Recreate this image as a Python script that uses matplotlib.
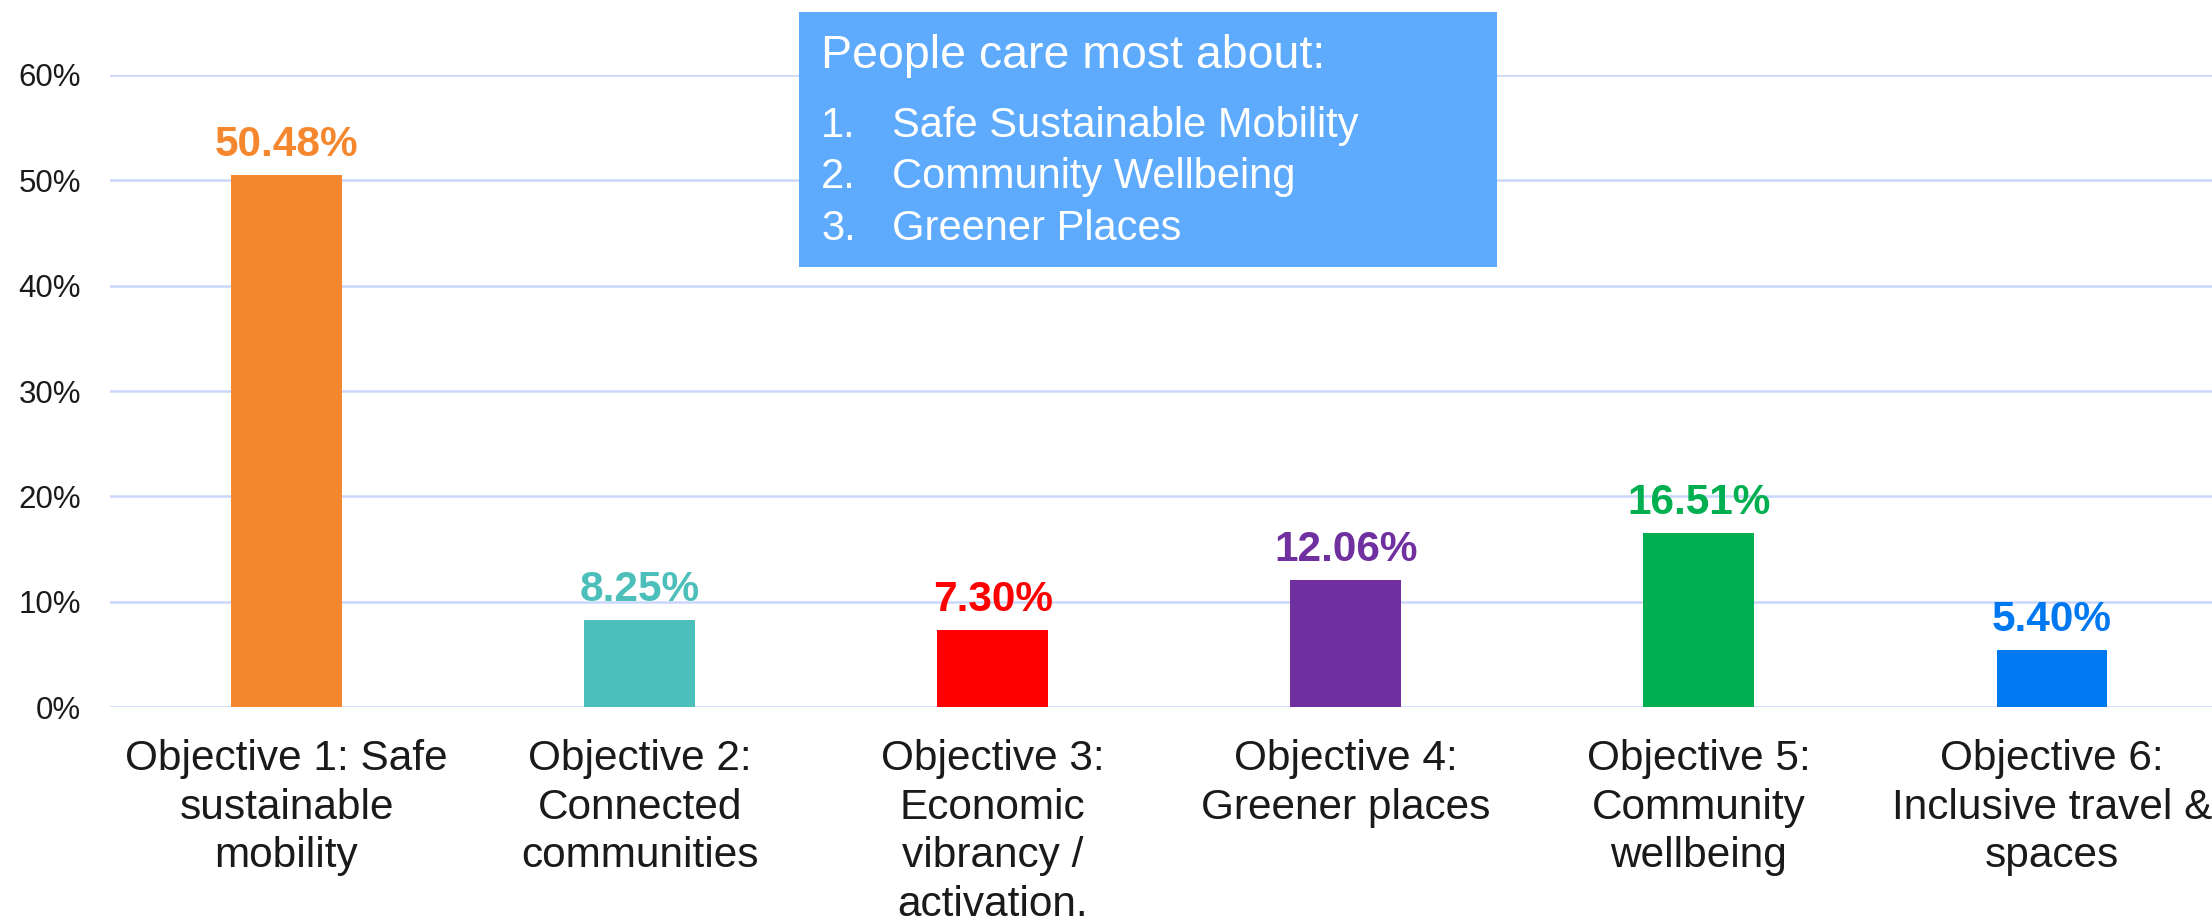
import matplotlib
matplotlib.use("Agg")
import matplotlib.pyplot as plt
from matplotlib import font_manager
from matplotlib.patches import Rectangle
from matplotlib.ticker import FuncFormatter

categories = [
    "Objective 1: Safe\nsustainable\nmobility",
    "Objective 2:\nConnected\ncommunities",
    "Objective 3:\nEconomic\nvibrancy /\nactivation.",
    "Objective 4:\nGreener places",
    "Objective 5:\nCommunity\nwellbeing",
    "Objective 6:\nInclusive travel &\nspaces",
]
values = [50.48, 8.25, 7.30, 12.06, 16.51, 5.40]
value_labels = ["50.48%", "8.25%", "7.30%", "12.06%", "16.51%", "5.40%"]
colors = ["#F5882F", "#4DBFBA", "#FF0000", "#7030A0", "#00B050", "#0078F0"]
y_ticks = [0, 10, 20, 30, 40, 50, 60]
box_title = "People care most about:"
box_items = ["Safe Sustainable Mobility", "Community Wellbeing", "Greener Places"]

names = {f.name for f in font_manager.fontManager.ttflist}
base_font = "Liberation Sans" if "Liberation Sans" in names else "DejaVu Sans"
plt.rcParams["font.family"] = [base_font, "DejaVu Sans"]

fig = plt.figure(figsize=(22.12, 9.22), dpi=100)
ax = fig.add_axes([110 / 2212, 1 - 707 / 922, 2118.5 / 2212, (707 - 75) / 922])

x = list(range(len(categories)))
ax.bar(x, values, width=0.314, color=colors, zorder=3)
for xi, v, lab, c in zip(x, values, value_labels, colors):
    ax.annotate(lab, (xi, v), xytext=(0, 14), textcoords="offset points",
                ha="center", va="baseline", fontsize=30.5, fontweight="bold",
                color=c, zorder=4)

ax.set_xlim(-0.5, 5.5)
ax.set_ylim(0, 60)
ax.set_yticks(y_ticks)
ax.yaxis.set_major_formatter(FuncFormatter(lambda v, p: f"{v:.0f}%"))
ax.set_xticks(x)
ax.set_xticklabels(categories, fontsize=30.5, color="#1a1a1a", linespacing=1.28)
ax.tick_params(axis="y", length=0, pad=21, labelsize=22.5, labelcolor="#1a1a1a")
ax.tick_params(axis="x", length=0, pad=23)
ax.grid(axis="y", color="#C9D7FA", linewidth=1.8, zorder=0)
ax.set_axisbelow(True)
for s in ax.spines.values():
    s.set_visible(False)

# Callout box
fig.patches.append(Rectangle((799 / 2212, 1 - 267 / 922), 698 / 2212, 255 / 922,
                             transform=fig.transFigure, facecolor="#5EABFE",
                             edgecolor="none", zorder=5))
fig.text(821 / 2212, 1 - 68 / 922, box_title, fontsize=33.5, color="white",
         va="baseline", ha="left", zorder=6)
baselines = [137, 188, 240]
for i, (item, b) in enumerate(zip(box_items, baselines)):
    fig.text(821 / 2212, 1 - b / 922, f"{i + 1}.", fontsize=30, color="white",
             va="baseline", ha="left", zorder=6)
    fig.text(892 / 2212, 1 - b / 922, item, fontsize=30, color="white",
             va="baseline", ha="left", zorder=6)

fig.savefig("out.png", dpi=100, facecolor="white")
